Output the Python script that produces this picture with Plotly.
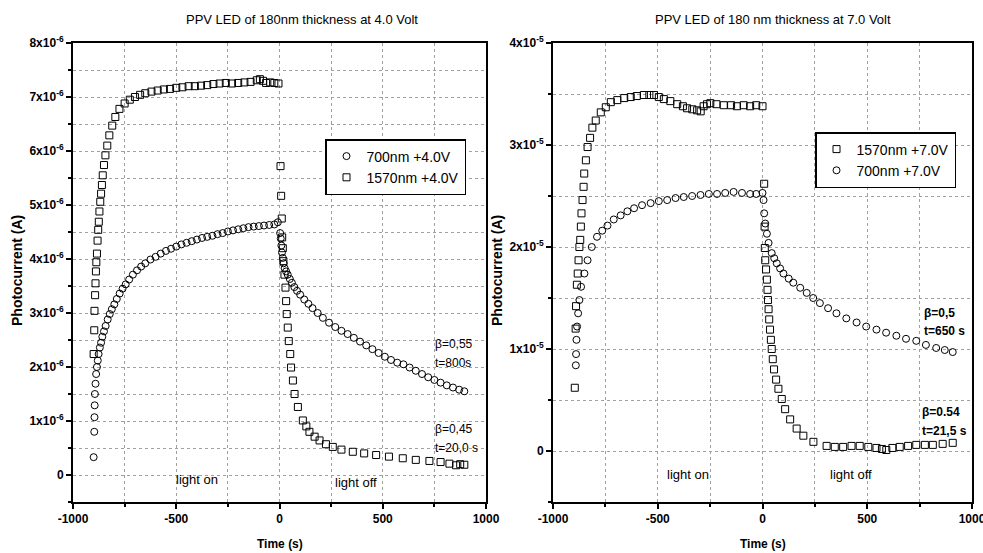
import plotly.graph_objects as go

# ---------------- data ----------------
# Left panel: 4.0 V, currents in units of 1e-6 A
t_700_4 = [-900, -897, -896, -895, -894, -891, -888, -884, -880, -876, -870, -864, -858, -850, -842, -832,
           -822, -812, -800, -788, -774, -760, -745, -728, -710, -690, -670, -650, -625, -600, -575, -550,
           -525, -500, -475, -450, -425, -400, -375, -350, -325, -300, -275, -250, -225, -200, -175, -150,
           -125, -100, -75, -50, -25, -8,
           3, 6, 9, 12, 16, 20, 25, 32, 40, 50, 60, 72, 85, 100, 120, 140, 160, 185, 210, 240, 270, 300,
           330, 360, 390, 420, 450, 480, 510, 540, 570, 600, 630, 660, 690, 720, 750, 780, 810, 840, 870, 895]
i_700_4 = [0.33, 0.80, 1.07, 1.29, 1.50, 1.69, 1.87, 2.00, 2.12, 2.24, 2.36, 2.45, 2.56, 2.66, 2.76, 2.88,
           2.98, 3.07, 3.16, 3.26, 3.36, 3.45, 3.53, 3.62, 3.71, 3.79, 3.86, 3.92, 3.99, 4.04, 4.10, 4.15,
           4.19, 4.23, 4.27, 4.30, 4.33, 4.36, 4.39, 4.41, 4.43, 4.46, 4.48, 4.51, 4.53, 4.55, 4.57, 4.59,
           4.60, 4.61, 4.62, 4.63, 4.64, 4.68,
           4.48, 4.38, 4.25, 4.12, 4.02, 3.92, 3.83, 3.77, 3.71, 3.63, 3.56, 3.48, 3.41, 3.34, 3.25, 3.17,
           3.09, 3.00, 2.91, 2.82, 2.74, 2.67, 2.61, 2.54, 2.47, 2.40, 2.33, 2.26, 2.19, 2.13, 2.08, 2.05,
           1.99, 1.93, 1.87, 1.81, 1.76, 1.71, 1.66, 1.62, 1.58, 1.55]

t_1570_4 = [-900, -897, -896, -893, -891, -889, -887, -884, -881, -878, -875, -872, -868, -864, -860, -856,
            -850, -843, -834, -824, -810, -795, -775, -750, -725, -700, -675, -650, -620, -590, -560, -530,
            -500, -470, -440, -410, -380, -350, -320, -290, -260, -230, -200, -170, -140, -110, -95, -80,
            -65, -45, -25, -5,
            5, 8, 11, 13, 16, 19, 24, 29, 32, 35, 40, 45, 52, 56, 65, 73, 89, 113, 130, 145, 170, 194, 225,
            258, 300, 355, 410, 468, 530, 597, 660, 726, 780, 823, 855, 875, 895]
i_1570_4 = [2.24, 2.68, 3.04, 3.33, 3.55, 3.77, 3.94, 4.10, 4.34, 4.54, 4.69, 4.88, 5.06, 5.21, 5.37, 5.55,
            5.74, 5.92, 6.10, 6.29, 6.47, 6.63, 6.78, 6.88, 6.95, 7.00, 7.04, 7.07, 7.10, 7.12, 7.14, 7.15,
            7.17, 7.18, 7.20, 7.20, 7.21, 7.22, 7.24, 7.25, 7.26, 7.25, 7.26, 7.27, 7.28, 7.31, 7.33, 7.30,
            7.26, 7.27, 7.26, 7.25,
            5.72, 5.17, 4.75, 4.40, 4.20, 3.96, 3.71, 3.47, 3.22, 2.98, 2.73, 2.48, 2.24, 1.99, 1.75, 1.50,
            1.26, 1.01, 0.90, 0.80, 0.71, 0.64, 0.57, 0.52, 0.47, 0.43, 0.40, 0.37, 0.34, 0.31, 0.28, 0.26,
            0.24, 0.21, 0.18, 0.20, 0.19]

# Right panel: 7.0 V, currents in units of 1e-5 A
t_1570_7 = [-896, -892, -890, -886, -882, -878, -874, -870, -867, -864, -859, -854, -851, -843, -835, -823,
            -812, -796, -772, -748, -724, -693, -660, -629, -600, -566, -540, -518, -495, -471, -440, -407,
            -380, -360, -335, -312, -295, -281, -265, -249, -220, -185, -150, -122, -90, -59, -30, 0,
            8, 10, 11, 13, 17, 21, 24, 26, 29, 32, 36, 40, 44, 49, 55, 65, 76, 92, 108, 132, 163, 195, 243,
            306, 345, 385, 425, 464, 505, 544, 570, 591, 620, 655, 695, 734, 775, 813, 860, 908]
i_1570_7 = [0.62, 1.20, 1.42, 1.63, 1.74, 1.87, 2.00, 2.07, 2.20, 2.33, 2.46, 2.59, 2.72, 2.85, 2.98, 3.07,
            3.17, 3.24, 3.32, 3.37, 3.42, 3.44, 3.46, 3.47, 3.48, 3.49, 3.49, 3.49, 3.47, 3.45, 3.43, 3.40,
            3.38, 3.36, 3.35, 3.34, 3.33, 3.38, 3.40, 3.41, 3.40, 3.39, 3.39, 3.38, 3.39, 3.38, 3.39, 3.38,
            2.62, 2.20, 1.99, 1.87, 1.78, 1.68, 1.58, 1.48, 1.39, 1.29, 1.19, 1.09, 1.00, 0.90, 0.80, 0.70,
            0.61, 0.51, 0.41, 0.31, 0.22, 0.15, 0.09, 0.05, 0.04, 0.04, 0.05, 0.05, 0.04, 0.03, 0.02, 0.01,
            0.03, 0.04, 0.05, 0.06, 0.06, 0.06, 0.07, 0.08]

t_700_7 = [-891, -890, -888, -885, -880, -874, -866, -850, -835, -815, -790, -765, -740, -710, -677, -645,
           -613, -575, -534, -495, -455, -415, -376, -336, -296, -256, -217, -178, -138, -98, -59, -30, 0,
           5, 8, 13, 21, 29, 44, 56, 68, 84, 100, 125, 147, 180, 211, 242, 274, 313, 353, 400, 449, 495,
           544, 590, 639, 685, 734, 780, 829, 870, 908]
i_700_7 = [0.84, 0.95, 1.09, 1.22, 1.35, 1.48, 1.61, 1.74, 1.87, 2.00, 2.10, 2.16, 2.21, 2.27, 2.31, 2.35,
           2.38, 2.41, 2.43, 2.45, 2.46, 2.48, 2.49, 2.50, 2.51, 2.52, 2.52, 2.53, 2.54, 2.53, 2.52, 2.52, 2.53,
           2.46, 2.33, 2.23, 2.13, 2.04, 1.94, 1.89, 1.84, 1.79, 1.74, 1.69, 1.65, 1.60, 1.55, 1.50, 1.45,
           1.40, 1.35, 1.30, 1.26, 1.22, 1.19, 1.16, 1.13, 1.10, 1.08, 1.04, 1.01, 0.99, 0.97]

x_ticks = [-1000, -500, 0, 500, 1000]
x_text = ["-1000", "-500", "0", "500", "1000"]
y_ticks_left = [0, 1e-6, 2e-6, 3e-6, 4e-6, 5e-6, 6e-6, 7e-6, 8e-6]
y_text_left = ["0"] + [f"{k}x10<sup>-6</sup>" for k in range(1, 9)]
y_ticks_right = [0, 1e-5, 2e-5, 3e-5, 4e-5]
y_text_right = ["0"] + [f"{k}x10<sup>-5</sup>" for k in range(1, 5)]

# ---------------- figure ----------------
FONT = "Liberation Sans, Arial, sans-serif"
W, H = 983, 553
fig = go.Figure()

mk = dict(color="black", size=7, line=dict(color="black", width=1))

fig.add_trace(go.Scatter(x=t_700_4, y=[v * 1e-6 for v in i_700_4], mode="markers", name="700nm +4.0V",
                         marker=dict(symbol="circle-open", **mk), xaxis="x", yaxis="y", legend="legend"))
fig.add_trace(go.Scatter(x=t_1570_4, y=[v * 1e-6 for v in i_1570_4], mode="markers", name="1570nm +4.0V",
                         marker=dict(symbol="square-open", **mk), xaxis="x", yaxis="y", legend="legend"))
fig.add_trace(go.Scatter(x=t_1570_7, y=[v * 1e-5 for v in i_1570_7], mode="markers", name="1570nm +7.0V",
                         marker=dict(symbol="square-open", **mk), xaxis="x2", yaxis="y2", legend="legend2"))
fig.add_trace(go.Scatter(x=t_700_7, y=[v * 1e-5 for v in i_700_7], mode="markers", name="700nm +7.0V",
                         marker=dict(symbol="circle-open", **mk), xaxis="x2", yaxis="y2", legend="legend2"))

grid = dict(showgrid=True, gridcolor="#a0a0a0", griddash="dot", gridwidth=1)
TF = dict(family=FONT, size=12, color="black", weight="bold")


def xaxis(domain, anchor):
    return dict(domain=domain, anchor=anchor, range=[-1000, 1000], tickmode="array", tickvals=x_ticks,
                ticktext=x_text, ticklabeloverflow="allow",
                ticks="outside", ticklen=5, tickwidth=1.5, tickcolor="black",
                showline=True, linecolor="black", linewidth=2, mirror=True, zeroline=False,
                tickfont=TF, automargin=False,
                minor=dict(dtick=250, tick0=0, ticks="outside", ticklen=3, tickcolor="black", **grid),
                **grid)


def yaxis(domain, anchor, rng, vals, text, mdt):
    return dict(domain=domain, anchor=anchor, range=rng, tickmode="array", tickvals=vals, ticktext=text,
                ticks="outside", ticklen=5, tickwidth=1.5, tickcolor="black", ticklabeloverflow="allow",
                showline=True, linecolor="black", linewidth=2, mirror=True, zeroline=False,
                tickfont=TF, automargin=False,
                minor=dict(dtick=mdt, tick0=0, ticks="outside", ticklen=3, tickcolor="black", **grid),
                **grid)


ydom = [1 - 502 / H, 1 - 43 / H]
fig.update_layout(
    width=W, height=H, margin=dict(l=0, r=0, t=0, b=0),
    paper_bgcolor="white", plot_bgcolor="white",
    font=dict(family=FONT, color="black"),
    xaxis=xaxis([73 / W, 486 / W], "y"),
    yaxis=yaxis(ydom, "x", [-0.5e-6, 8e-6], y_ticks_left, y_text_left, 0.5e-6),
    xaxis2=xaxis([553 / W, 972 / W], "y2"),
    yaxis2=yaxis(ydom, "x2", [-0.5e-5, 4e-5], y_ticks_right, y_text_right, 0.5e-5),
    legend=dict(x=325 / W, y=1 - 139 / H, xanchor="left", yanchor="top", bgcolor="white",
                bordercolor="black", borderwidth=1.5, font=dict(family=FONT, size=14),
                tracegroupgap=0, itemwidth=30, entrywidth=110),
    legend2=dict(x=815 / W, y=1 - 132 / H, xanchor="left", yanchor="top", bgcolor="white",
                 bordercolor="black", borderwidth=1.5, font=dict(family=FONT, size=14),
                 tracegroupgap=0, itemwidth=30, entrywidth=106),
    showlegend=True,
)

ann = []
def A(text, x, y, xref="paper", yref="paper", size=12, anchor="center", angle=0, bold=False):
    ann.append(dict(text=f"<b>{text}</b>" if bold else text, x=x, y=y, xref=xref, yref=yref,
                    showarrow=False, xanchor=anchor, yanchor="middle", textangle=angle,
                    font=dict(family=FONT, size=size, color="black")))

# titles
A("PPV LED of 180nm thickness at 4.0 Volt", 302 / W, 1 - 19 / H, size=13)
A("PPV LED of 180 nm thickness at 7.0 Volt", 773 / W, 1 - 19 / H, size=13)
# axis titles
A("Photocurrent (A)", 17 / W, 1 - 271 / H, size=14, angle=-90, bold=True)
A("Photocurrent (A)", 497 / W, 1 - 271 / H, size=14, angle=-90, bold=True)
A("Time (s)", 280 / W, 1 - 544 / H, size=12, bold=True)
A("Time (s)", 763 / W, 1 - 544 / H, size=12, bold=True)
# left annotations
A("β=0,55", 743, 2.43e-6, "x", "y", anchor="left")
A("t=800s", 743, 2.08e-6, "x", "y", anchor="left")
A("β=0,45", 743, 0.85e-6, "x", "y", anchor="left")
A("t=20,0 s", 743, 0.50e-6, "x", "y", anchor="left")
A("light on", -399, -0.09e-6, "x", "y", size=13)
A("light off", 371, -0.13e-6, "x", "y", size=13)
# right annotations
A("β=0,5", 761, 1.35e-5, "x2", "y2", anchor="left", bold=True)
A("t=650 s", 761, 1.18e-5, "x2", "y2", anchor="left", bold=True)
A("β=0.54", 752, 0.38e-5, "x2", "y2", anchor="left", bold=True)
A("t=21,5 s", 752, 0.20e-5, "x2", "y2", anchor="left", bold=True)
A("light on", -356, -0.23e-5, "x2", "y2", size=13)
A("light off", 422, -0.23e-5, "x2", "y2", size=13)
fig.update_layout(annotations=ann)

fig.write_html("out.html")
